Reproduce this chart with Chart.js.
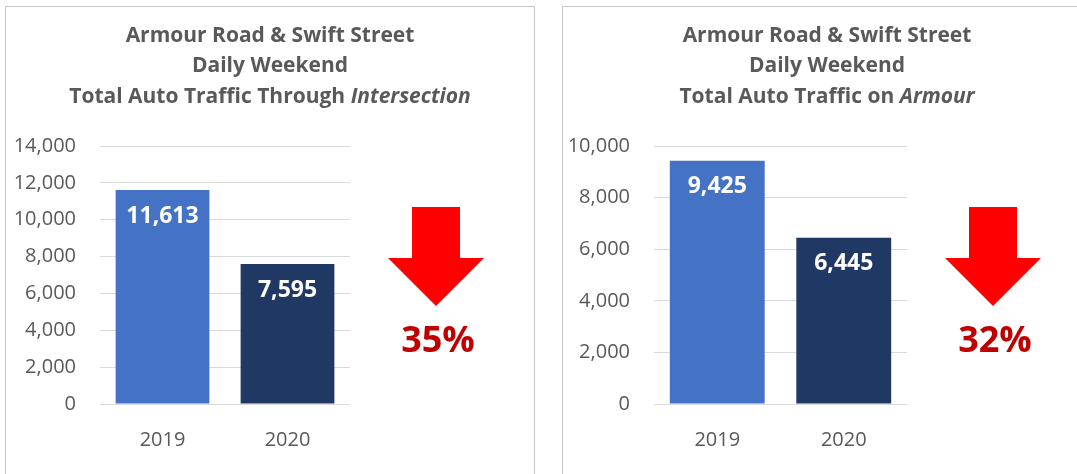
<!DOCTYPE html>
<html>
<head>
<meta charset="utf-8">
<script src="https://cdn.jsdelivr.net/npm/chart.js"></script>
<style>
  html, body { margin: 0; padding: 0; background: #fff; overflow: hidden; }
  .panel {
    position: absolute;
    top: 6px;
    width: 528px;
    height: 478px;
    border: 1px solid #c8c8c8;
    background: #fff;
  }
  #panelLeft { left: 5px; }
  #panelRight { left: 562px; }
</style>
</head>
<body>

<div class="panel" id="panelLeft"><canvas id="chartIntersection" width="528" height="478"></canvas></div>
<div class="panel" id="panelRight"><canvas id="chartArmour" width="528" height="478"></canvas></div>

<script>
// years on the x axis
const years = ['2019', '2020'];

// daily weekend auto counts
const intersectionTraffic = [11613, 7595];
const armourTraffic = [9425, 6445];

// y axis ranges
const intersectionTicks = { max: 14000, step: 2000 };
const armourTicks = { max: 10000, step: 2000 };

// title lines, each a list of text runs
const intersectionTitle = [
    [{ text: 'Armour Road & Swift Street' }],
    [{ text: 'Daily Weekend' }],
    [{ text: 'Total Auto Traffic Through ' }, { text: 'Intersection', italic: true }]
];
const armourTitle = [
    [{ text: 'Armour Road & Swift Street' }],
    [{ text: 'Daily Weekend' }],
    [{ text: 'Total Auto Traffic on ' }, { text: 'Armour', italic: true }]
];

const barColors = ['#4472C4', '#203864'];
const FONT = '"Open Sans", "Segoe UI", sans-serif';

/* =========================
   PLUGINS
========================= */

// three line title with mixed italic runs
const titleLines = {
    id: 'titleLines',
    afterDraw(chart, args, opts) {
        const ctx = chart.ctx;
        ctx.save();
        ctx.fillStyle = '#595959';
        ctx.textBaseline = 'middle';
        ctx.textAlign = 'left';
        opts.lines.forEach((runs, i) => {
            let total = 0;
            runs.forEach(r => {
                ctx.font = (r.italic ? 'italic ' : '') + 'bold 21px ' + FONT;
                r.w = ctx.measureText(r.text).width;
                total += r.w;
            });
            let x = chart.width / 2 - total / 2;
            const y = 29 + i * 30.5;
            runs.forEach(r => {
                ctx.font = (r.italic ? 'italic ' : '') + 'bold 21px ' + FONT;
                ctx.fillText(r.text, x, y);
                x += r.w;
            });
        });
        ctx.restore();
    }
};

// white value labels just inside the top of each bar
const valueLabels = {
    id: 'valueLabels',
    afterDatasetsDraw(chart) {
        const ctx = chart.ctx;
        const meta = chart.getDatasetMeta(0);
        const data = chart.data.datasets[0].data;
        ctx.save();
        ctx.fillStyle = '#ffffff';
        ctx.font = 'bold 23px ' + FONT;
        ctx.textAlign = 'center';
        ctx.textBaseline = 'middle';
        meta.data.forEach((bar, i) => {
            ctx.fillText(data[i].toLocaleString('en-US'), bar.x, bar.y + 26);
        });
        ctx.restore();
    }
};

// red down arrow with the percentage drop
const dropArrow = {
    id: 'dropArrow',
    afterDraw(chart) {
        const ctx = chart.ctx;
        const area = chart.chartArea;
        const data = chart.data.datasets[0].data;
        const drop = Math.round((data[0] - data[1]) / data[0] * 100);
        const cx = area.right + 86;
        const top = area.top + 61;
        const neck = area.top + 112;
        const tip = area.top + 160;

        ctx.save();
        ctx.fillStyle = '#ff0000';
        ctx.beginPath();
        ctx.moveTo(cx - 24, top);
        ctx.lineTo(cx + 24, top);
        ctx.lineTo(cx + 24, neck);
        ctx.lineTo(cx + 48, neck);
        ctx.lineTo(cx, tip);
        ctx.lineTo(cx - 48, neck);
        ctx.lineTo(cx - 24, neck);
        ctx.closePath();
        ctx.fill();

        ctx.fillStyle = '#c00000';
        ctx.font = 'bold 36px ' + FONT;
        ctx.textAlign = 'center';
        ctx.textBaseline = 'middle';
        ctx.fillText(drop + '%', cx + 2, area.top + 196);
        ctx.restore();
    }
};

/* =========================
   CHART BUILDER
========================= */
function createTrafficChart(canvasId, values, ticks, title, axisWidth) {
    const ctx = document.getElementById(canvasId).getContext('2d');

    return new Chart(ctx, {
        type: 'bar',
        data: {
            labels: years,
            datasets: [{
                data: values,
                backgroundColor: barColors,
                borderWidth: 0,
                barPercentage: 0.75,
                categoryPercentage: 1
            }]
        },
        options: {
            responsive: false,
            animation: false,
            layout: { padding: { top: 139, right: 184, left: 0, bottom: 0 } },
            plugins: {
                legend: { display: false },
                tooltip: { enabled: false },
                title: { display: false },
                titleLines: { lines: title }
            },
            scales: {
                x: {
                    grid: { display: false, drawTicks: false },
                    border: { display: false },
                    ticks: {
                        color: '#595959',
                        padding: 24,
                        font: { family: FONT, size: 20 }
                    },
                    afterFit(scale) { scale.height = 81; }
                },
                y: {
                    min: 0,
                    max: ticks.max,
                    grid: { color: '#d9d9d9', lineWidth: 1, drawTicks: false },
                    border: { display: false },
                    ticks: {
                        stepSize: ticks.step,
                        color: '#595959',
                        padding: 24,
                        font: { family: FONT, size: 20 },
                        callback: v => v.toLocaleString('en-US')
                    },
                    afterFit(scale) { scale.width = axisWidth; }
                }
            }
        },
        plugins: [titleLines, valueLabels, dropArrow]
    });
}

window.onload = function () {
    createTrafficChart('chartIntersection', intersectionTraffic, intersectionTicks, intersectionTitle, 94);
    createTrafficChart('chartArmour', armourTraffic, armourTicks, armourTitle, 91);
};
</script>
</body>
</html>
